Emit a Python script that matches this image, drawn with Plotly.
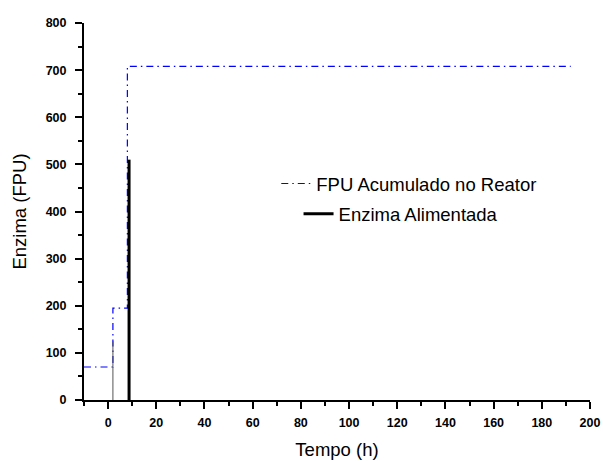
import plotly.graph_objects as go

# Data
fpu_time = [-10, 2, 8, 192]
fpu_value = [70, 195, 708, 708]

feed_time = [2, 8.7]
feed_value = [125, 510]

x_ticks = [0, 20, 40, 60, 80, 100, 120, 140, 160, 180, 200]
y_ticks = [0, 100, 200, 300, 400, 500, 600, 700, 800]

fig = go.Figure()

fig.add_trace(go.Scatter(
    x=fpu_time, y=fpu_value, mode="lines", line_shape="hv",
    line=dict(color="#0000ff", width=1.2, dash="7px,4px,1.5px,4px"),
    name="FPU Acumulado no Reator", legend="legend",
))

# thin first feed line
fig.add_trace(go.Scatter(
    x=[feed_time[0], feed_time[0]], y=[0, feed_value[0]], mode="lines",
    line=dict(color="#555555", width=1), showlegend=False,
))
fig.add_trace(go.Scatter(
    x=[feed_time[1], feed_time[1]], y=[0, feed_value[1]], mode="lines",
    line=dict(color="black", width=3),
    name="Enzima Alimentada", legend="legend2",
))

axis_common = dict(
    showline=True, linecolor="black", linewidth=2,
    ticks="outside", ticklen=7, tickwidth=2, tickcolor="black",
    showgrid=False, zeroline=False, automargin=False,
    tickfont=dict(family="Liberation Sans, Arial", size=12.5, color="black", weight="bold"),
    title_font=dict(family="Liberation Sans, Arial", size=18.5, color="black"),
)

fig.update_xaxes(
    range=[-10, 200], tickvals=x_ticks, ticklabelstandoff=3,
    minor=dict(ticks="outside", ticklen=4, tickwidth=2, tickcolor="black", dtick=10, tick0=-10),
    title_text="Tempo (h)", title_standoff=14, **axis_common,
)
fig.update_yaxes(
    range=[0, 800], tickvals=y_ticks, ticklabelstandoff=6,
    minor=dict(ticks="outside", ticklen=4, tickwidth=2, tickcolor="black", dtick=50, tick0=0),
    title_text="Enzima (FPU)", title_standoff=14, **axis_common,
)

legend_font = dict(family="Liberation Sans, Arial", size=18.5, color="black")
fig.update_layout(
    width=603, height=461,
    margin=dict(l=84, r=13, t=23, b=61),
    plot_bgcolor="white", paper_bgcolor="white",
    legend=dict(x=0.380, y=0.573, xanchor="left", yanchor="middle",
                bgcolor="rgba(0,0,0,0)", font=legend_font),
    legend2=dict(x=0.424, y=0.493, xanchor="left", yanchor="middle",
                 bgcolor="rgba(0,0,0,0)", font=legend_font),
)

fig.write_html("out.html")
